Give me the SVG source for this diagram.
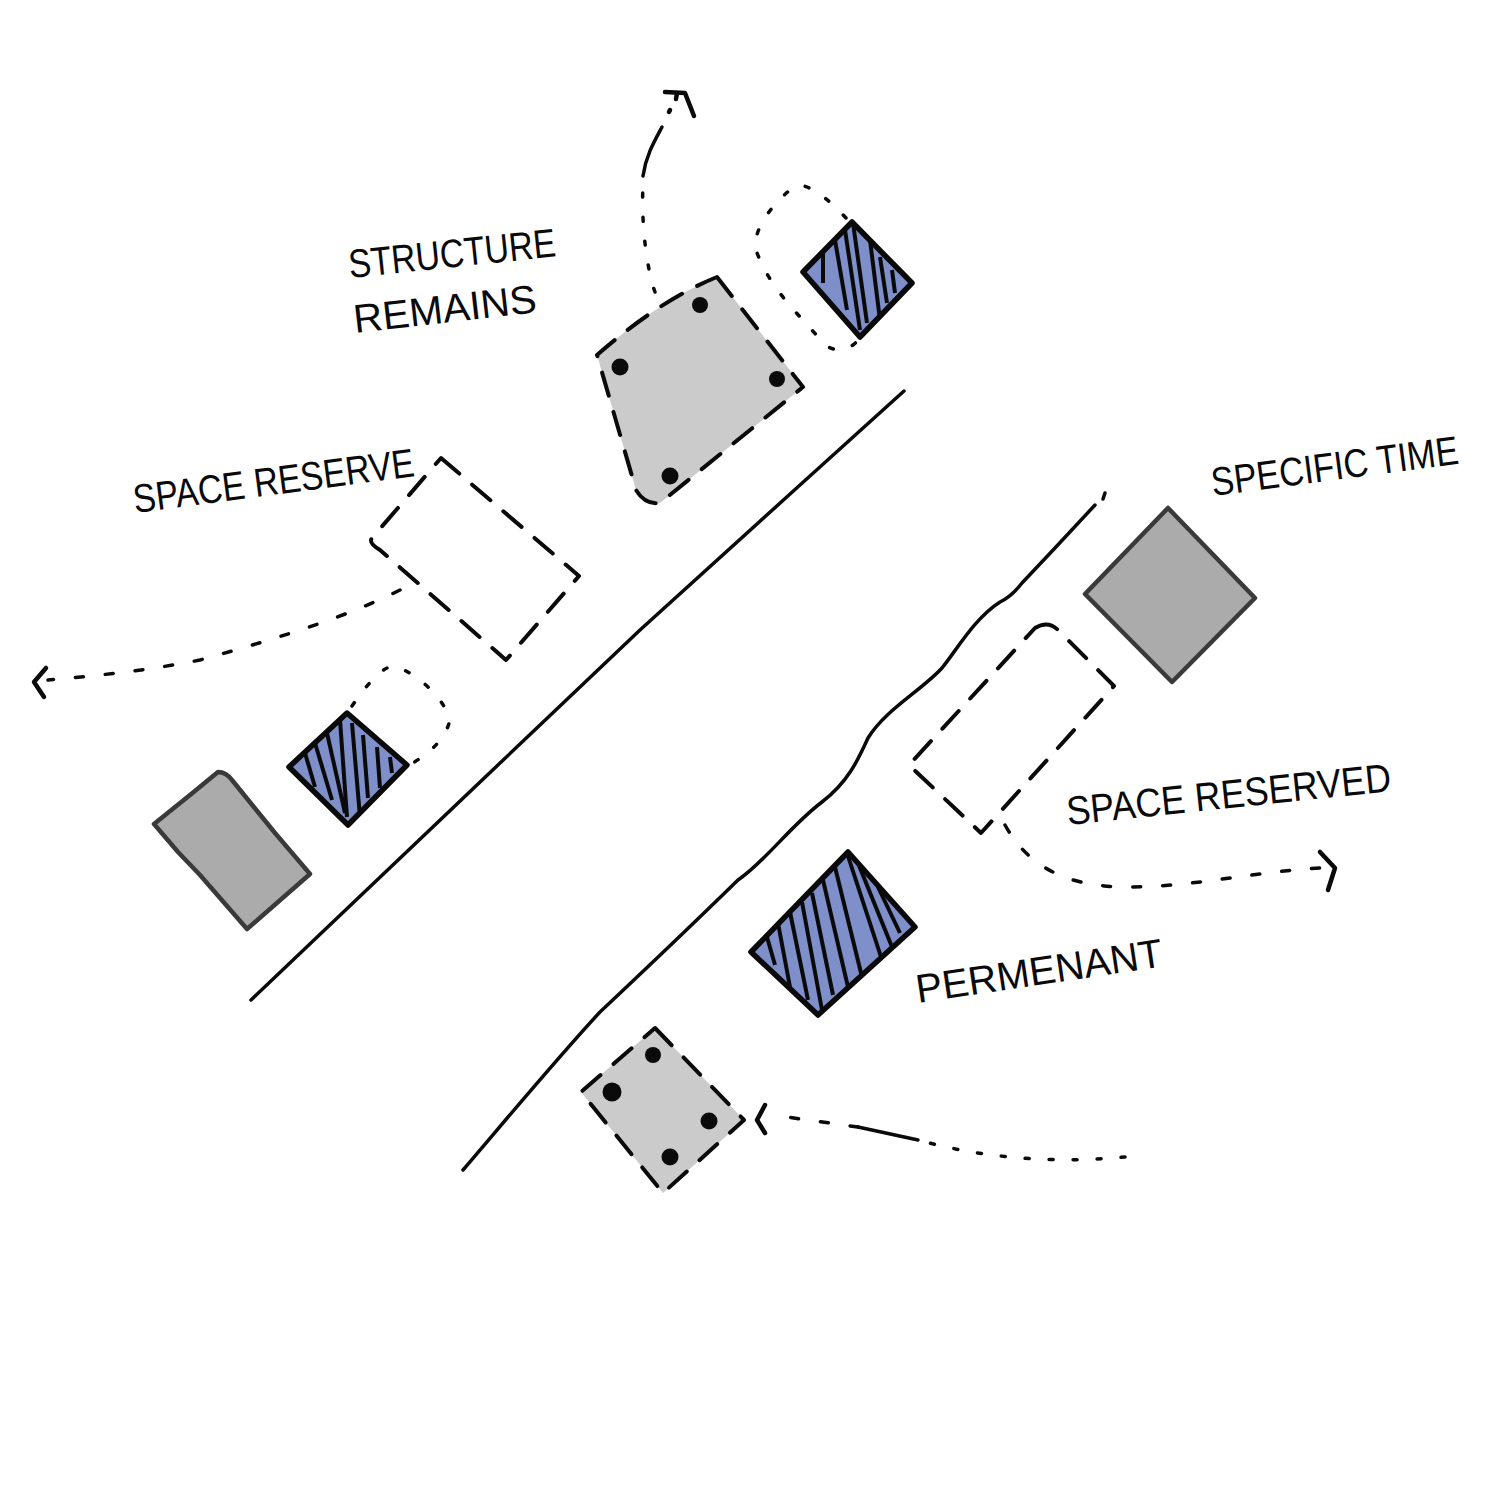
<svg xmlns="http://www.w3.org/2000/svg" width="1500" height="1500" viewBox="0 0 1500 1500">
<style>
.ink{fill:none;stroke:#0a0a0a;stroke-linecap:round;stroke-linejoin:round}
.road{stroke-width:3.5}
.dash{stroke-width:4;stroke-dasharray:24 17}
.dot{stroke-width:3.5;stroke-dasharray:4 20}
.dotl{stroke-width:3.5;stroke-dasharray:8 22}
.head{stroke-width:4.5}
.lt{fill:#cbcbcb}
.dk{fill:#ababab;stroke:#3a3a3a;stroke-width:4.5;stroke-linejoin:round}
.bl{fill:#7f8fca}
.edge{fill:none;stroke:#0a0a0a;stroke-width:5.5;stroke-linejoin:round}
.hatch{fill:none;stroke:#0a0a0a;stroke-width:4}
.pin{fill:#0a0a0a}
text{font-family:"Liberation Sans",Arial,sans-serif;fill:#0a0a0a;font-size:40px}
</style>
<defs>
<clipPath id="c1"><polygon points="852,222 912,283 860,337 803,272"/></clipPath>
<clipPath id="c2"><polygon points="347,713 407,765 348,825 289,767"/></clipPath>
<clipPath id="c3"><polygon points="848,852 915,927 818,1015 751,952"/></clipPath>
</defs>
<rect width="1500" height="1500" fill="#ffffff"/>
<g id="connectors">
<path class="ink road" d="M904,391 L800,485 L640,630 L540,725 L251,1000"/>
<path class="ink road" d="M1095,505 L1055,548 L1022,583 Q1012,596 1000,602 C975,618 958,648 942,668 C922,690 885,710 868,738 C858,760 848,782 822,802 C790,826 765,862 738,880 C695,922 650,965 600,1012 C560,1055 510,1115 463,1170"/>
<path class="ink road" d="M1105,493 L1103,499"/>
<path class="ink dot" d="M655,292 C647,270 641,225 643,185"/>
<path class="ink road" d="M643,176 C646,155 655,140 662,127"/>
<path class="ink head" d="M669,112 L670,110 M665,92 L685,93 L694,116 M677,93 L676,99"/>
<path class="ink dotl" d="M400,590 C350,615 290,635 200,660 C140,672 90,676 48,680"/>
<path class="ink head" d="M46,668 L34,682 L44,697"/>
<path class="ink dotl" d="M1005,825 C1030,870 1070,885 1120,887 C1190,888 1250,872 1320,868"/>
<path class="ink head" d="M1320,852 L1335,868 L1328,890"/>
<path class="ink dot" d="M1125,1157 C1060,1163 990,1160 918,1140"/>
<path class="ink road" d="M858,1127 L918,1140"/>
<path class="ink dotl" d="M858,1127 L772,1115"/>
<path class="ink head" d="M765,1105 L757,1120 L765,1133"/>
<path class="ink dot" d="M846,218 C825,195 805,182 795,186 C770,205 752,232 756,250 C770,290 800,315 825,345 C840,355 852,348 860,338"/>
<path class="ink dot" d="M352,706 C370,680 385,665 395,666 C420,675 445,700 450,720 C445,740 430,752 413,763"/>
</g>
<g id="structure-top">
<path class="lt" d="M597,355 Q660,300 717,277 L803,387 L660,503 Q645,505 636,490 Z"/>
<path class="ink dash" d="M717,277 L803,387 L660,503 Q645,505 636,490 L597,355 Q660,300 717,277 Z"/>
<circle class="pin" cx="700" cy="305" r="8"/><circle class="pin" cx="620" cy="367" r="8.5"/><circle class="pin" cx="777" cy="379" r="8"/><circle class="pin" cx="670" cy="476" r="8.5"/>
</g>
<g id="blue-top">
<polygon class="bl" points="852,222 912,283 860,337 803,272"/>
<path class="hatch" clip-path="url(#c1)" d="M823,253 L823,283 M835,240 L847,310 M845,230 L860,330 M853,223 L867,323 M870,240 L880,320 M880,257 L887,303 M892,270 L895,293"/>
<polygon class="edge" points="852,222 912,283 860,337 803,272"/>
</g>
<g id="reserve-left"><path class="ink dash" d="M441,458 L579,576 L506,660 L380,550 Q368,543 372,538 Z"/></g>
<g id="blue-left">
<polygon class="bl" points="347,713 407,765 348,825 289,767"/>
<path class="hatch" clip-path="url(#c2)" d="M305,753 L315,787 M315,743 L332,800 M327,733 L345,813 M340,720 L347,817 M352,723 L360,817 M363,735 L368,798 M377,747 L380,788 M390,757 L392,773"/>
<polygon class="edge" points="347,713 407,765 348,825 289,767"/>
</g>
<g id="gray-left"><path class="dk" d="M218,772 Q226,772 232,780 L275,833 L310,874 L247,929 L200,875 L178,852 L154,824 L190,795 Z"/></g>
<g id="gray-right"><polygon class="dk" points="1168,508 1255,598 1172,682 1085,594"/></g>
<g id="reserve-right"><path class="ink dash" d="M1035,628 Q1048,620 1058,630 L1114,686 L981,833 L909,765 Z"/></g>
<g id="blue-permanent">
<polygon class="bl" points="848,852 915,927 818,1015 751,952"/>
<path class="hatch" clip-path="url(#c3)" d="M767,937 L775,965 M778,923 L790,987 M790,912 L808,1000 M802,902 L822,1010 M812,893 L833,995 M823,880 L848,987 M835,867 L862,977 M847,853 L883,963 M858,863 L892,947 M878,887 L900,933"/>
<polygon class="edge" points="848,852 915,927 818,1015 751,952"/>
</g>
<g id="structure-bottom">
<polygon class="lt" points="655,1028 744,1120 663,1193 581,1092"/>
<path class="ink dash" d="M655,1028 L744,1120 L663,1193 L581,1092 Z"/>
<circle class="pin" cx="653" cy="1055" r="8"/><circle class="pin" cx="612" cy="1092" r="9.5"/><circle class="pin" cx="709" cy="1121" r="8.5"/><circle class="pin" cx="670" cy="1157" r="8.5"/>
</g>
<g id="labels">
<text x="350" y="278" textLength="208" lengthAdjust="spacingAndGlyphs" transform="rotate(-6 350 278)">STRUCTURE</text>
<text x="355" y="333" textLength="184" lengthAdjust="spacingAndGlyphs" transform="rotate(-6.5 355 333)">REMAINS</text>
<text x="135" y="513" textLength="283" lengthAdjust="spacingAndGlyphs" transform="rotate(-7.5 135 513)">SPACE RESERVE</text>
<text x="1213" y="496" textLength="249" lengthAdjust="spacingAndGlyphs" transform="rotate(-7.5 1213 496)">SPECIFIC TIME</text>
<text x="1068" y="825" textLength="326" lengthAdjust="spacingAndGlyphs" transform="rotate(-6 1068 825)">SPACE RESERVED</text>
<text x="918" y="1003" textLength="249" lengthAdjust="spacingAndGlyphs" transform="rotate(-8.5 918 1003)">PERMENANT</text>
</g>
</svg>
